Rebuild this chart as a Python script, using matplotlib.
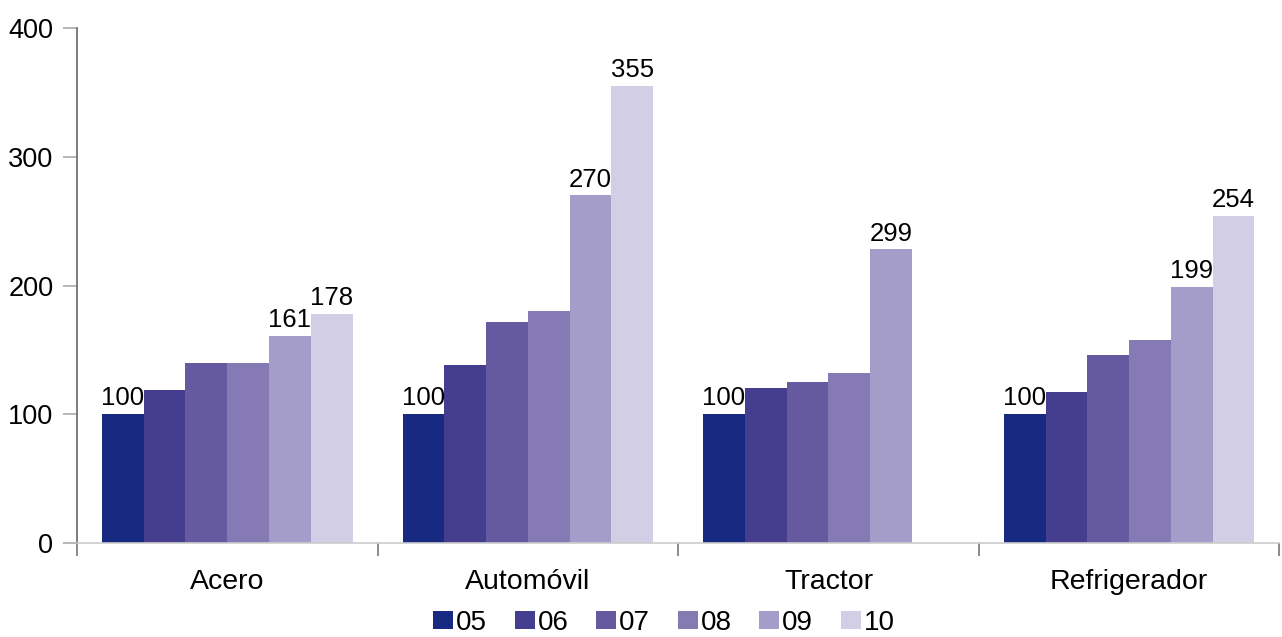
import numpy as np
import matplotlib.pyplot as plt

plt.rcParams['font.family'] = ['Liberation Sans', 'DejaVu Sans']

# Datos
categorias = ['Acero', 'Automóvil', 'Tractor', 'Refrigerador']
series = ['05', '06', '07', '08', '09', '10']
v05 = [100, 100, 100, 100]
v06 = [119, 138, 120, 117]
v07 = [140, 172, 125, 146]
v08 = [140, 180, 132, 158]
v09 = [161, 270, 228, 199]
v10 = [178, 355, np.nan, 254]
valores = [v05, v06, v07, v08, v09, v10]

# Etiquetas que muestra el gráfico (serie, categoría, texto)
etiquetas = [
    (0, 0, '100'), (4, 0, '161'), (5, 0, '178'),
    (0, 1, '100'), (4, 1, '270'), (5, 1, '355'),
    (0, 2, '100'), (4, 2, '299'),
    (0, 3, '100'), (4, 3, '199'), (5, 3, '254'),
]

colores = ['#172981', '#453e8e', '#655a9f', '#857ab3', '#a59dc9', '#d1cee5']

fig = plt.figure(figsize=(12.82, 6.37), dpi=100)
ax = fig.add_axes([0.060, 0.1476, 0.938, 0.8084])

x = np.arange(len(categorias))
ancho = 0.139
offset0 = -0.5 + 0.083

for i, (nombre, vals) in enumerate(zip(series, valores)):
    pos = x + offset0 + ancho * (i + 0.5)
    ax.bar(pos, vals, width=ancho, color=colores[i], label=nombre, linewidth=0)

for i, j, txt in etiquetas:
    pos = x[j] + offset0 + ancho * (i + 0.5)
    ax.text(pos, valores[i][j] + 3, txt, ha='center', va='bottom', fontsize=18.5)

ax.set_xlim(-0.5, 3.5)
ax.set_ylim(0, 400)
ax.set_yticks([0, 100, 200, 300, 400])
ax.tick_params(axis='y', labelsize=19.5, length=10, width=1.2, color='#aaaaaa', pad=7)

ax.set_xticks([-0.5, 0.5, 1.5, 2.5, 3.5])
ax.set_xticklabels([])
ax.set_xticks(x, minor=True)
ax.set_xticklabels(categorias, minor=True, fontsize=20.5)
ax.tick_params(axis='x', which='major', length=9, width=1.2, color='#777777')
ax.tick_params(axis='x', which='minor', length=0, pad=19)

ax.spines['top'].set_visible(False)
ax.spines['right'].set_visible(False)
ax.spines['left'].set_color('#666666')
ax.spines['left'].set_linewidth(1.2)
ax.spines['bottom'].set_color('#cccccc')
ax.spines['bottom'].set_linewidth(1.2)

fig.legend(loc='lower center', ncol=6, frameon=False, fontsize=20,
           handlelength=0.72, handleheight=0.65, handletextpad=0.1,
           columnspacing=1.0, borderpad=0, borderaxespad=0,
           bbox_to_anchor=(0.518, 0.002))

fig.savefig('out.png', dpi=100)
